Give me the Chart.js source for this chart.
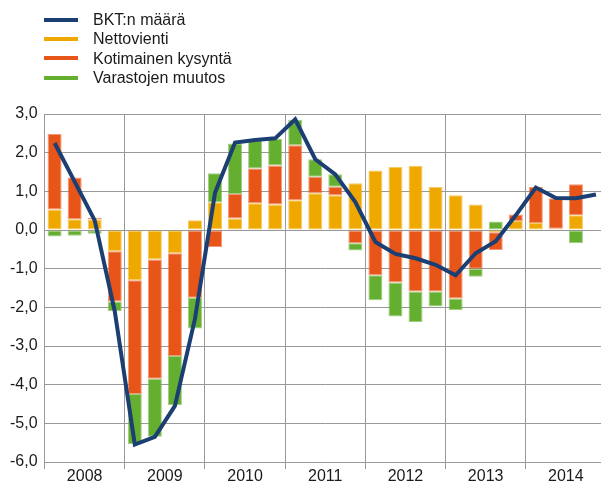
<!DOCTYPE html>
<html>
<head>
<meta charset="utf-8">
<script src="https://cdn.jsdelivr.net/npm/chart.js@4"></script>
<style>
  html, body { margin: 0; padding: 0; background: #fff; overflow: hidden; }
  #wrap { position: absolute; left: 0; top: 0; width: 607px; height: 485px; }
  #legend { position: absolute; left: 44px; top: 10px; font: 16px "Liberation Sans", Arial, sans-serif; color: #1a1a1a; }
  .item { height: 19.3px; line-height: 19.3px; display: flex; align-items: center; }
  .swatch { width: 34px; height: 4px; margin-right: 15px; }
</style>
</head>
<body>
<div id="wrap"><canvas id="chart" width="607" height="485"></canvas></div>
<div id="legend"></div>
<script>
// vuosineljännekset 2008-2014
const years = ["2008", "2009", "2010", "2011", "2012", "2013", "2014"];
const quarters = [
  "2008Q1", "2008Q2", "2008Q3", "2008Q4",
  "2009Q1", "2009Q2", "2009Q3", "2009Q4",
  "2010Q1", "2010Q2", "2010Q3", "2010Q4",
  "2011Q1", "2011Q2", "2011Q3", "2011Q4",
  "2012Q1", "2012Q2", "2012Q3", "2012Q4",
  "2013Q1", "2013Q2", "2013Q3", "2013Q4",
  "2014Q1", "2014Q2", "2014Q3", "2014Q4"
];

const bkt = [2.25, 1.25, 0.25, -2.1, -5.55, -5.35, -4.55, -2.3,
  0.96, 2.26, 2.33, 2.37, 2.86, 1.83, 1.44, 0.72,
  -0.31, -0.62, -0.73, -0.9, -1.17, -0.6, -0.29, 0.38,
  1.1, 0.83, 0.82, 0.92];
const nettovienti = [0.53, 0.28, 0.27, -0.55, -1.3, -0.76, -0.6, 0.25,
  0.72, 0.3, 0.69, 0.66, 0.77, 0.95, 0.9, 1.21,
  1.54, 1.63, 1.66, 1.11, 0.9, 0.66, -0.06, 0.23,
  0.18, 0.03, 0.38, null];
const kotimainen = [1.95, 1.08, 0.05, -1.3, -2.94, -3.09, -2.66, -1.75,
  -0.44, 0.63, 0.9, 1.01, 1.42, 0.43, 0.22, -0.34,
  -1.17, -1.36, -1.59, -1.59, -1.77, -1.0, -0.46, 0.17,
  0.93, 0.79, 0.8, null];
const varastot = [-0.17, -0.15, -0.1, -0.25, -1.3, -1.5, -1.27, -0.8,
  0.75, 1.31, 0.73, 0.69, 0.66, 0.45, 0.32, -0.19,
  -0.65, -0.88, -0.79, -0.39, -0.3, -0.21, 0.22, -0.03,
  -0.03, 0, -0.34, null];

const colors = {
  bkt: "#1b3f73",
  netto: "#efa800",
  koti: "#e85519",
  varasto: "#64ae30"
};

const gridGrey = "#999999";
const fontFam = "'Liberation Sans', Arial, sans-serif";

const legendItems = [
  ["BKT:n määrä", colors.bkt],
  ["Nettovienti", colors.netto],
  ["Kotimainen kysyntä", colors.koti],
  ["Varastojen muutos", colors.varasto]
];
const legendEl = document.getElementById("legend");
legendItems.forEach(([label, c]) => {
  const row = document.createElement("div");
  row.className = "item";
  row.innerHTML = '<span class="swatch" style="background:' + c + '"></span><span>' + label + "</span>";
  legendEl.appendChild(row);
});

const barStyle = (c) => ({
  type: "bar",
  backgroundColor: c,
  borderColor: c + "99",
  borderWidth: 1,
  borderSkipped: false,
  order: 1,
  stack: "osat",
  barPercentage: 0.7,
  categoryPercentage: 1
});

new Chart(document.getElementById("chart"), {
  data: {
    labels: quarters,
    datasets: [
      {
        type: "line",
        label: "BKT:n määrä",
        data: bkt,
        borderColor: colors.bkt,
        borderWidth: 4,
        pointRadius: 0,
        tension: 0,
        order: 0,
        stack: "viiva"
      },
      Object.assign({ label: "Nettovienti", data: nettovienti }, barStyle(colors.netto)),
      Object.assign({ label: "Kotimainen kysyntä", data: kotimainen }, barStyle(colors.koti)),
      Object.assign({ label: "Varastojen muutos", data: varastot }, barStyle(colors.varasto))
    ]
  },
  options: {
    responsive: false,
    animation: false,
    layout: { padding: { top: 114, left: 3, right: 1, bottom: 0 } },
    plugins: {
      legend: { display: false },
      tooltip: { enabled: false }
    },
    scales: {
      x: {
        stacked: true,
        offset: true,
        grid: {
          offset: true,
          color: (ctx) => (ctx.index % 4 === 0 ? gridGrey : "rgba(0,0,0,0)"),
          lineWidth: 1,
          tickLength: 7
        },
        border: { color: gridGrey },
        ticks: {
          autoSkip: false,
          maxRotation: 0,
          labelOffset: 10,
          padding: 0,
          color: "#1a1a1a",
          font: { family: fontFam, size: 16, lineHeight: 1.0 },
          callback: (val, i) => (i % 4 === 1 ? years[Math.floor(i / 4)] : "")
        }
      },
      y: {
        stacked: true,
        min: -6,
        max: 3,
        grid: { color: gridGrey, drawTicks: false },
        border: { color: gridGrey },
        ticks: {
          stepSize: 1,
          padding: 7,
          color: "#1a1a1a",
          font: { family: fontFam, size: 16 },
          callback: (v) => v.toFixed(1).replace(".", ",")
        }
      }
    }
  }
});
</script>
</body>
</html>
